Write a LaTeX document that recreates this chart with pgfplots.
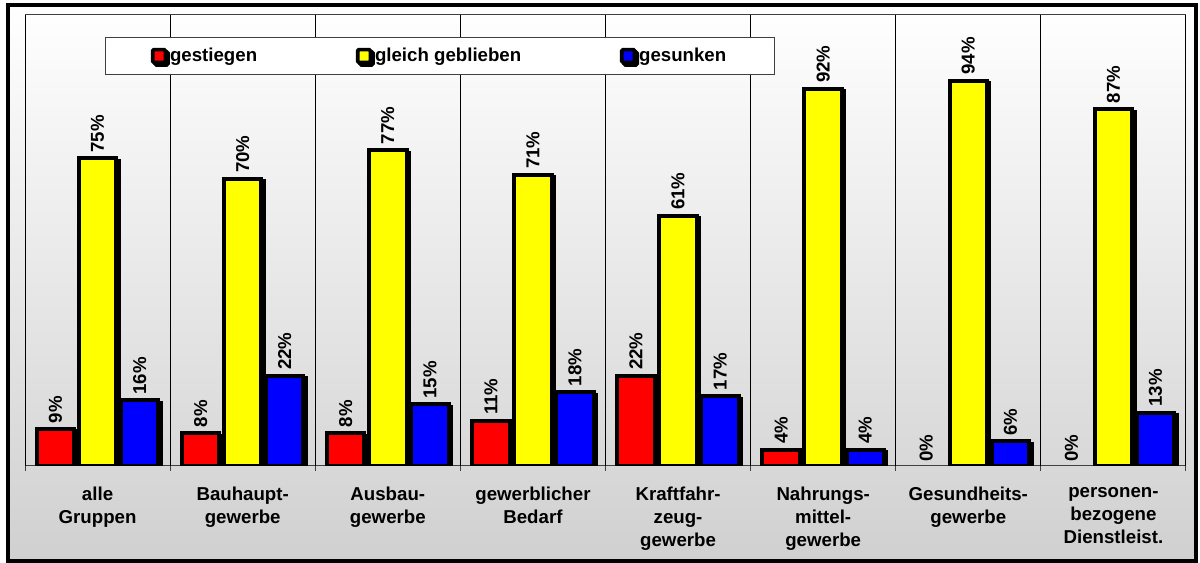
\documentclass[border=0pt]{standalone}
\usepackage{pgfplots}
\pgfplotsset{compat=1.18}
\usepackage{fontspec}
\setmainfont{Liberation Sans}

\definecolor{barred}{HTML}{FF0000}
\definecolor{baryel}{HTML}{FFFF00}
\definecolor{barblu}{HTML}{0000FF}
\definecolor{bgbot}{HTML}{D0D0D0}
\definecolor{axgray}{HTML}{404040}

\pgfplotsset{
  shadowbar/.style={fill=#1, draw=black, line width=3pt,
    preaction={fill=black, draw=black, transform canvas={shift={(1.8pt,-1.8pt)}}}},
  sqlegend/.style={legend image code/.code={%
    \draw[fill=#1, draw=black, line width=2.8pt, rounded corners=1pt] (0pt,-4.8pt) rectangle (9.6pt,4.8pt);}},
}

\begin{document}
\begin{tikzpicture}[font=\bfseries\fontsize{14}{17.25}\selectfont]
\useasboundingbox (0,0) rectangle (900pt,422.25pt);
\shade[top color=white, bottom color=bgbot] (6pt,1.5pt) rectangle (897pt,418.7pt);
\draw[line width=3pt] (6pt,1.5pt) rectangle (897pt,418.7pt);
\begin{axis}[
    at={(18.75pt,72.75pt)}, anchor=south west,
    scale only axis,
    width=870.75pt, height=338.25pt,
    ybar, bar width=0.258,
    xmin=-0.5, xmax=7.5,
    ymin=0, ymax=110,
    axis line style={draw=axgray, line width=0.75pt},
    ytick=\empty,
    xtick={0,...,7},
    xticklabels={{alle\\Gruppen},{Bauhaupt-\\gewerbe},{Ausbau-\\gewerbe},{gewerblicher\\Bedarf},
                 {Kraftfahr-\\zeug-\\gewerbe},{Nahrungs-\\mittel-\\gewerbe},{Gesundheits-\\gewerbe},
                 {personen-\\bezogene\\Dienstleist.}},
    xticklabel style={align=center, yshift=-12.5pt, text=black},
    major tick length=0pt,
    xtick pos=left,
    extra x ticks={-0.5,0.5,...,7.5},
    extra x tick labels={},
    extra x tick style={grid=major, major tick length=3.75pt, tick align=outside,
        tick style={draw=axgray, line width=0.75pt}},
    major grid style={draw=black, line width=0.75pt},
    /pgf/number format/assume math mode=true,
    nodes near coords={\pgfmathprintnumber{\pgfplotspointmeta}\%},
    every node near coord/.append style={rotate=90, anchor=west, text=black, inner sep=3pt},
    legend style={at={(0.0689,0.951)}, anchor=north west, draw=axgray, line width=0.75pt,
        fill=white, legend columns=3, inner xsep=34pt, inner ysep=6pt,
        /tikz/every even column/.append style={column sep=72pt}},
    legend cell align=left,
]
\addplot[shadowbar=barred, bar shift=-0.29, sqlegend=barred]
  coordinates {(0,9) (1,8) (2,8) (3,11) (4,22) (5,4)};
\addlegendentry{gestiegen}
\addplot[shadowbar=baryel, bar shift=0, sqlegend=baryel]
  coordinates {(0,75) (1,70) (2,77) (3,71) (4,61) (5,92) (6,94) (7,87)};
\addlegendentry{gleich geblieben}
\addplot[shadowbar=barblu, bar shift=0.29, sqlegend=barblu]
  coordinates {(0,16) (1,22) (2,15) (3,18) (4,17) (5,4) (6,6) (7,13)};
\addlegendentry{gesunken}
% zero values: label only, no bar
\addplot[bar shift=-0.29, draw=none, fill=none, forget plot]
  coordinates {(6,0) (7,0)};
\end{axis}
\end{tikzpicture}
\end{document}
